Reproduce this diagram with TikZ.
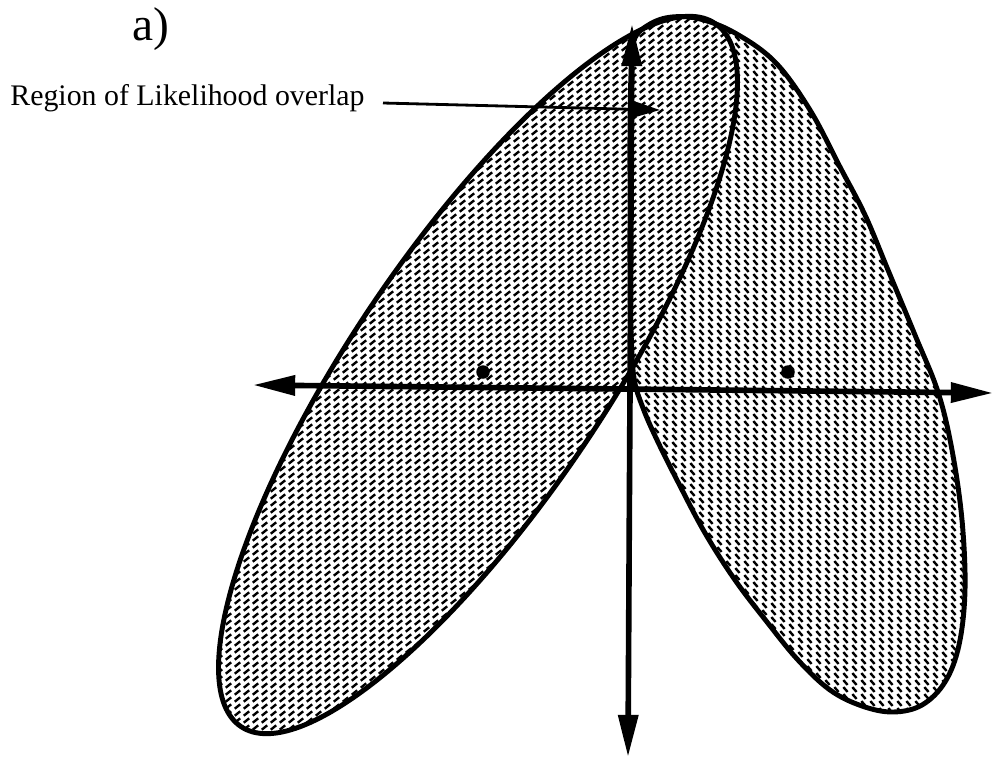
\documentclass[tikz,border=0pt]{standalone}
\usepackage{fontspec}
\setmainfont{Liberation Serif}
\usetikzlibrary{arrows.meta,patterns}
\pgfdeclarepatternformonly{hatchNE}{\pgfqpoint{0pt}{0pt}}{\pgfqpoint{5.39pt}{4.25pt}}{\pgfqpoint{5.39pt}{4.25pt}}{%
  \pgfsetlinewidth{1.45pt}\pgfsetbuttcap
  \pgfpathmoveto{\pgfqpoint{1.07pt}{0.8pt}}\pgfpathlineto{\pgfqpoint{4.32pt}{3.45pt}}\pgfusepath{stroke}}
\pgfdeclarepatternformonly{hatchNW}{\pgfqpoint{0pt}{0pt}}{\pgfqpoint{5.39pt}{4.25pt}}{\pgfqpoint{5.39pt}{4.25pt}}{%
  \pgfsetlinewidth{1.45pt}\pgfsetbuttcap
  \pgfpathmoveto{\pgfqpoint{1.42pt}{3.6pt}}\pgfpathlineto{\pgfqpoint{3.97pt}{0.65pt}}\pgfusepath{stroke}}
\begin{document}
\begin{tikzpicture}[x=0.02cm,y=-0.02cm,
  outline/.style={line width=2.8pt, line join=round},
  axisline/.style={line width=3.2pt, {Triangle[length=24pt,width=11pt]}-{Triangle[length=24pt,width=11pt]}},
  pointer/.style={line width=1.6pt, -{Triangle[length=15pt,width=9pt]}},
  centerdot/.style={circle, fill=black, inner sep=0pt, minimum size=0.27cm},
  lbltext/.style={anchor=base west, inner sep=0pt, font=\fontsize{17pt}{20pt}\selectfont},
  paneltext/.style={anchor=base west, inner sep=0pt, font=\fontsize{27pt}{30pt}\selectfont}]
\useasboundingbox (0,0) rectangle (994,758);
% right likelihood region
\path[fill=white, postaction={pattern=hatchNW}] plot[smooth cycle, tension=0.6] coordinates {
 (634,40) (650,24) (672,17) (700,19) (735,33) (775,62) (810,110) (840,167) (865,215) (888,270)
 (915,335) (938,392) (952,450) (962,520) (965,590) (959,645) (945,682) (922,705) (893,712)
 (862,706) (830,690) (798,660) (767,622) (735,580) (705,533) (678,482) (657,440) (643,408)
 (634,378) (631,330) (630,270) (630,200) (630,130) (631,75)};
% left likelihood region
\path[fill=white, postaction={pattern=hatchNE}, rotate around={56:(478,375)}]
  (478,375) ellipse [x radius=424, y radius=127];
% outlines
\draw[outline] plot[smooth cycle, tension=0.6] coordinates {
 (634,40) (650,24) (672,17) (700,19) (735,33) (775,62) (810,110) (840,167) (865,215) (888,270)
 (915,335) (938,392) (952,450) (962,520) (965,590) (959,645) (945,682) (922,705) (893,712)
 (862,706) (830,690) (798,660) (767,622) (735,580) (705,533) (678,482) (657,440) (643,408)
 (634,378) (631,330) (630,270) (630,200) (630,130) (631,75)};
\draw[outline, rotate around={56:(478,375)}] (478,375) ellipse [x radius=424, y radius=127];
% axes
\coordinate (hl) at (253,385);
\coordinate (hr) at (993,393);
\coordinate (vt) at (632,24);
\coordinate (vb) at (628,757);
\draw[axisline] (hl) -- (hr);
\draw[axisline] (vb) -- (vt);
% centres
\node[centerdot] (lc) at (483,372) {};
\node[centerdot] (rc) at (788,372) {};
% labels
\node[paneltext] (panel) at (132,40) {a)};
\node[lbltext] (lbl) at (10,105) {Region of Likelihood overlap};
\coordinate (lblstart) at (383,103);
\coordinate (lbltip) at (660,110);
\draw[pointer] (lblstart) -- (lbltip);
\end{tikzpicture}
\end{document}
